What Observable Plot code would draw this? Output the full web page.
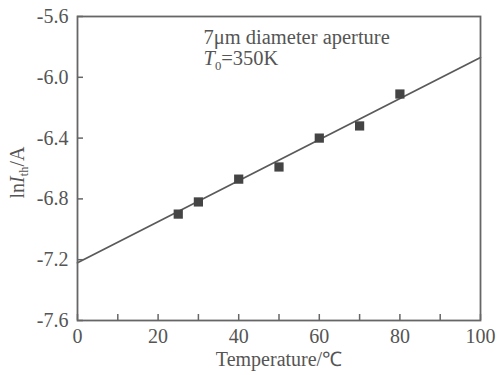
<!DOCTYPE html>
<html><head><meta charset="utf-8">
<script src="https://cdn.jsdelivr.net/npm/d3@7"></script>
<script src="https://cdn.jsdelivr.net/npm/@observablehq/plot@0.6"></script>
<style>
body{margin:0;background:#fff}
#chart svg{font-family:"Liberation Serif","Times New Roman",serif}
</style>
</head><body><div id="chart"></div>
<script>
// measured points
const temps = [25, 30, 40, 50, 60, 70, 80];
const lnIth = [-6.90, -6.82, -6.67, -6.59, -6.40, -6.32, -6.11];
// fitted line
const fitT = [0, 100];
const fitY = [-7.22, -5.87];
// ticks
const xTicks = [0, 10, 20, 30, 40, 50, 60, 70, 80, 90, 100];
const xLabels = [0, 20, 40, 60, 80, 100];
const yTicks = [-7.6, -7.2, -6.8, -6.4, -6.0, -5.6];
// texts
const note1 = "7μm diameter aperture";
const note2 = "T0=350K";
const xTitle = "Temperature/℃";
const yTitle = "lnIth/A";

const points = temps.map((t, i) => ({t, v: lnIth[i]}));
const fit = fitT.map((t, i) => ({t, v: fitY[i]}));

const W = 497, H = 375, ML = 77, MR = 17, MT = 16, MB = 55, TL = 6;
const ink = "#555";
const plot = Plot.plot({
  width: W, height: H,
  marginLeft: ML, marginRight: MR, marginTop: MT, marginBottom: MB,
  style: {fontSize: "20px", color: ink, background: "#fff", overflow: "visible"},
  x: {domain: [0, 100]},
  y: {domain: [-7.6, -5.6]},
  marks: [
    Plot.line(fit, {x: "t", y: "v", stroke: "#5a5a5a", strokeWidth: 1.8}),
    Plot.dot(points, {x: "t", y: "v", symbol: "square", r: 5.2, fill: "#444", stroke: "none"}),
    Plot.tickX(xTicks, {x: d => d, insetTop: H - MT - MB - TL, stroke: "#666", strokeWidth: 1.5}),
    Plot.tickY(yTicks, {y: d => d, insetRight: W - ML - MR - TL, stroke: "#666", strokeWidth: 1.5}),
    Plot.frame({stroke: "#666", strokeWidth: 1.8}),
    Plot.axisX(xLabels, {tickSize: 0, tickPadding: 8, tickFormat: d => String(d), label: null, fill: ink}),
    Plot.axisY(yTicks, {tickSize: 0, tickPadding: 9, tickFormat: d => d.toFixed(1), label: null, fill: ink}),
    Plot.text([xTitle], {text: d => d, frameAnchor: "bottom", dy: 31, lineAnchor: "top", textAnchor: "middle", fill: ink}),
    Plot.text([yTitle], {text: d => d, frameAnchor: "left", dx: -60, dy: 4, rotate: -90, textAnchor: "middle", fill: ink}),
    Plot.text([note1], {text: d => d, frameAnchor: "top-left", dx: 126, dy: 13, textAnchor: "start", lineAnchor: "top", fontSize: 20.5, fill: ink}),
    Plot.text([note2], {text: d => d, frameAnchor: "top-left", dx: 126, dy: 34, textAnchor: "start", lineAnchor: "top", fontSize: 20.5, fill: ink})
  ]
});

function rich(svg, plain, parts) {
  d3.select(svg).selectAll("text").filter(function(){ return this.textContent === plain; }).each(function(){
    const t = d3.select(this);
    t.text(null);
    for (const p of parts) {
      const s = t.append("tspan").text(p.t);
      if (p.i) s.attr("font-style", "italic");
      if (p.sub) s.attr("font-size", "0.62em").attr("dy", p.dy || "0.35em");
      if (p.back) s.attr("dy", p.back);
    }
  });
}
rich(plot, yTitle, [{t: "ln"}, {t: "I", i: true}, {t: "th", sub: true}, {t: "/A", back: "-0.22em"}]);
rich(plot, note2, [{t: "T", i: true}, {t: "0", sub: true}, {t: "=350K", back: "-0.22em"}]);

document.getElementById("chart").appendChild(plot);
</script>
</body></html>
